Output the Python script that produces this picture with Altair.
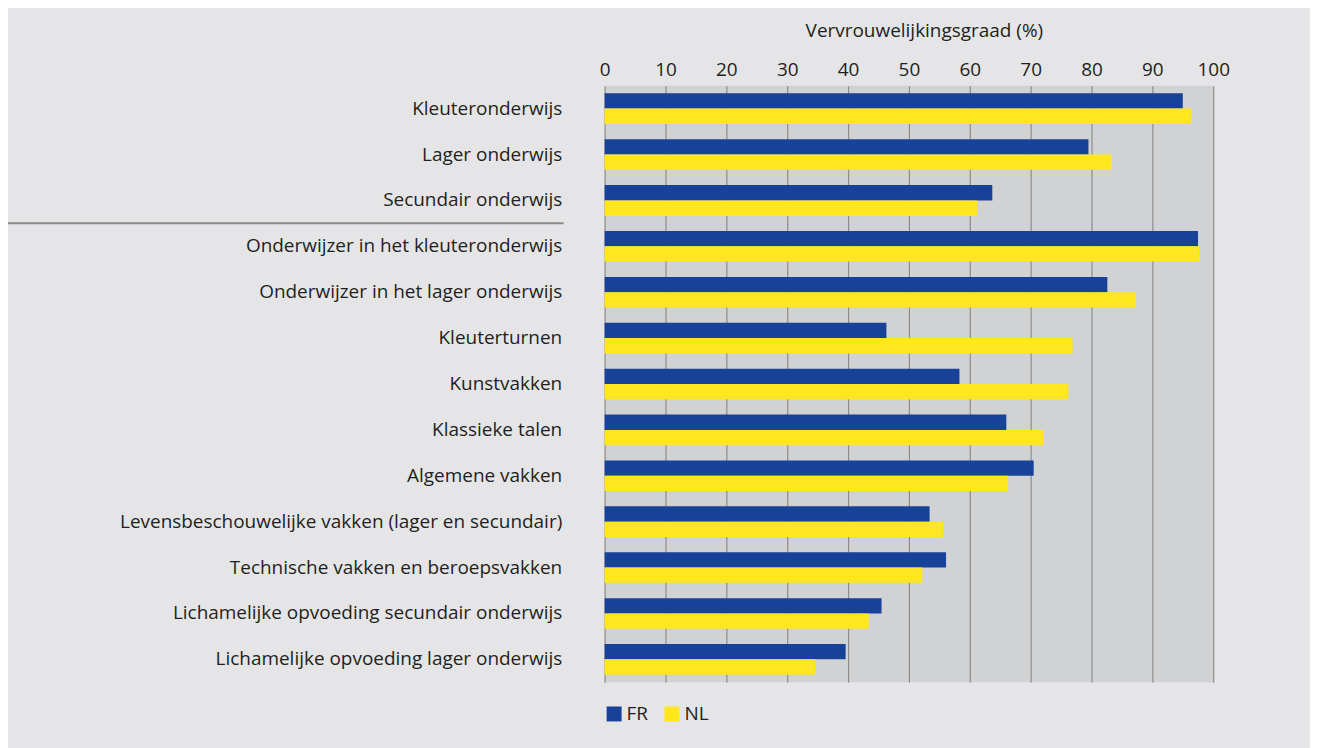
import altair as alt
import pandas as pd

categories = [
    "Kleuteronderwijs",
    "Lager onderwijs",
    "Secundair onderwijs",
    "Onderwijzer in het kleuteronderwijs",
    "Onderwijzer in het lager onderwijs",
    "Kleuterturnen",
    "Kunstvakken",
    "Klassieke talen",
    "Algemene vakken",
    "Levensbeschouwelijke vakken (lager en secundair)",
    "Technische vakken en beroepsvakken",
    "Lichamelijke opvoeding secundair onderwijs",
    "Lichamelijke opvoeding lager onderwijs",
]
fr_values = [95.0, 79.5, 63.7, 97.5, 82.6, 46.3, 58.3, 66.0, 70.5, 53.4, 56.1, 45.5, 39.6]
nl_values = [96.4, 83.3, 61.2, 97.7, 87.3, 76.9, 76.2, 72.2, 66.3, 55.6, 52.2, 43.4, 34.6]
series = ["FR", "NL"]
x_ticks = [0, 10, 20, 30, 40, 50, 60, 70, 80, 90, 100]
x_title = "Vervrouwelijkingsgraad (%)"
separator_after = 3  # line drawn after the third category

rows = []
for c, f, n in zip(categories, fr_values, nl_values):
    rows.append({"cat": c, "land": "FR", "v": f})
    rows.append({"cat": c, "land": "NL", "v": n})
df = pd.DataFrame(rows)

PLOT_W = 610
PLOT_H = 598
FONT = "Open Sans"
FS = 19
TXT = "#231f20"

bars = alt.Chart(df).mark_bar().encode(
    x=alt.X(
        "v:Q",
        scale=alt.Scale(domain=[0, 100], nice=False, zero=True),
        axis=alt.Axis(
            orient="top",
            values=x_ticks,
            title=x_title,
            titleFontSize=FS,
            titleFontWeight="normal",
            titleColor=TXT,
            titleFont=FONT,
            titleX=320,
            titleY=-49,
            titleAlign="center",
            titleBaseline="alphabetic",
            labelFontSize=FS,
            labelFont=FONT,
            labelColor=TXT,
            labelPadding=6,
            labelFlush=False,
            labelOverlap=False,
            ticks=False,
            tickSize=0,
            domain=False,
            grid=True,
            gridColor="#8c8c8c",
            gridWidth=1.2,
        ),
    ),
    y=alt.Y(
        "cat:N",
        sort=categories,
        scale=alt.Scale(paddingInner=0.333, paddingOuter=0.1665),
        axis=alt.Axis(
            title=None,
            labelFontSize=FS,
            labelFont=FONT,
            labelColor=TXT,
            labelPadding=43,
            labelLimit=800,
            ticks=False,
            domain=False,
            grid=False,
        ),
    ),
    yOffset=alt.YOffset("land:N", sort=series, scale=alt.Scale(paddingInner=0, paddingOuter=0)),
    color=alt.Color(
        "land:N",
        sort=series,
        scale=alt.Scale(domain=series, range=["#174297", "#ffe61e"]),
        legend=alt.Legend(
            title=None,
            orient="none",
            legendX=0,
            legendY=620,
            direction="horizontal",
            symbolType="square",
            symbolSize=225,
            symbolStrokeWidth=0,
            symbolOpacity=1,
            labelFontSize=FS,
            labelFont=FONT,
            labelColor=TXT,
            labelOffset=3,
            columnPadding=14,
            padding=0,
        ),
    ),
)

sep_y = PLOT_H / len(categories) * separator_after
separator = alt.Chart(pd.DataFrame({"k": [0]})).mark_rule(color="#8a8a8a", strokeWidth=2).encode(
    x=alt.value(-599),
    x2=alt.value(-41),
    y=alt.value(sep_y),
)

chart = (
    alt.layer(bars, separator)
    .properties(
        width=PLOT_W,
        height=PLOT_H,
        background="#e5e5e7",
        padding={"left": 598, "top": 77, "right": 97, "bottom": 65},
        autosize=alt.AutoSizeParams(type="none"),
    )
    .configure_view(fill="#d1d2d4", stroke=None)
)

chart.save("out.html", embed_options={"renderer": "svg", "actions": False})
